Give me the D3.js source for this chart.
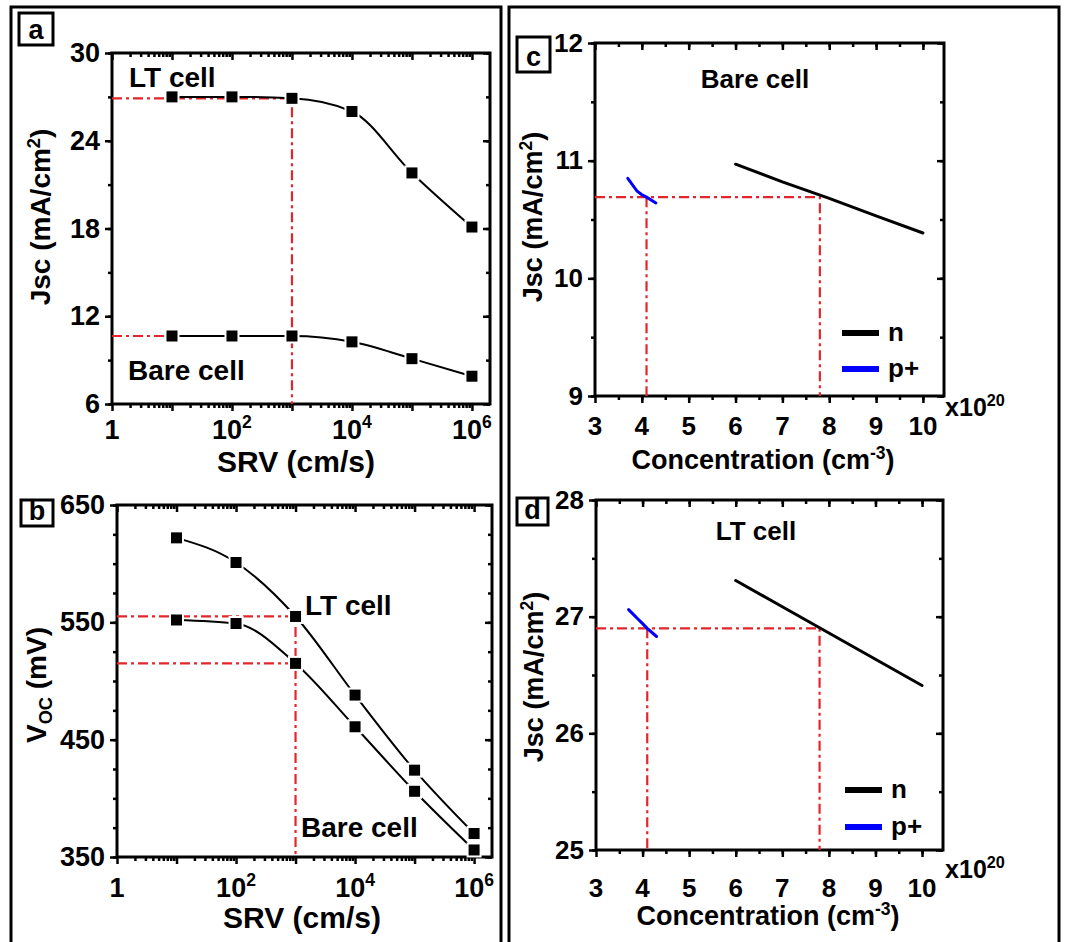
<!DOCTYPE html>
<html>
<head>
<meta charset="utf-8">
<script src="https://cdn.jsdelivr.net/npm/d3@7"></script>
<style>
  body { margin: 0; background: #fff; }
  text { font-family: "Liberation Sans", Arial, sans-serif; font-weight: bold; fill: #000; }
</style>
</head>
<body>
<svg id="fig" width="1068" height="942"></svg>
<script>
'use strict';

// ---- data ----
const srv = [10, 100, 1000, 1e4, 1e5, 1e6];
const jscLT = [27.0, 27.0, 26.9, 26.0, 21.8, 18.1];
const jscBare = [10.65, 10.65, 10.65, 10.25, 9.1, 7.9];
const vocLT = [622, 601, 555, 488, 424, 370];
const vocBare = [552, 549, 515, 461, 406, 356];

const concN = [6, 7, 8, 9, 10];
const concP = [3.7, 3.9, 4.0, 4.1, 4.3];
const bareN = [10.97, 10.82, 10.68, 10.53, 10.385];
const bareP = [10.85, 10.74, 10.71, 10.69, 10.64];
const ltN = [27.31, 27.085, 26.86, 26.635, 26.41];
const ltP = [27.06, 26.98, 26.94, 26.90, 26.83];

const cutConc = [4.1, 7.8];
const cutBare = 10.69;
const cutLT = 26.9;

const srvTicks = [1, 100, 1e4, 1e6];
const srvLabels = [["1", ""], ["10", "2"], ["10", "4"], ["10", "6"]];
const concTicks = [3, 4, 5, 6, 7, 8, 9, 10];

const red = "#e3262b";
const svg = d3.select("#fig");

// outer boxes
svg.append("rect").attr("x", 11).attr("y", 7).attr("width", 490).attr("height", 960)
    .style("fill", "none").style("stroke", "#000").style("stroke-width", 3);
svg.append("rect").attr("x", 509).attr("y", 7).attr("width", 550).attr("height", 960)
    .style("fill", "none").style("stroke", "#000").style("stroke-width", 3);

function logMinor(max) {
    var v = [];
    for (var e = 0; e < 7; e++)
        for (var m = 2; m <= 9; m++) {
            var t = m * Math.pow(10, e);
            if (t < max) v.push(t);
        }
    return v;
}

function steps(a, b, s) {
    return d3.range(a, b + s / 2, s).map(v => +v.toFixed(3));
}

function axisG(g, axis, tx, ty) {
    var s = g.append("g")
        .attr("transform", "translate(" + tx + "," + ty + ")")
        .call(axis);
    s.select(".domain").remove();
    s.attr("font-family", null).attr("font-size", 24);
    s.selectAll("line").style("stroke-width", "2.5px");
    return s;
}

function panel(o) {
    var x = (o.log ? d3.scaleLog() : d3.scaleLinear())
        .domain(o.xDomain).range([o.left, o.right]);
    var y = d3.scaleLinear().domain(o.yDomain).range([o.bottom, o.top]);
    var g = svg.append("g");

    // ticks: out on bottom/left, in on top/right
    axisG(g, d3.axisBottom(x).tickValues(o.xMinor).tickSize(4).tickFormat(""), 0, o.bottom);
    axisG(g, d3.axisBottom(x).tickValues(o.xMajor).tickSize(7).tickFormat(""), 0, o.bottom);
    axisG(g, d3.axisBottom(x).tickValues(o.xMinor).tickSize(4).tickFormat(""), 0, o.top);
    axisG(g, d3.axisBottom(x).tickValues(o.xMajor).tickSize(7).tickFormat(""), 0, o.top);
    axisG(g, d3.axisLeft(y).tickValues(o.yMinor).tickSize(4).tickFormat(""), o.left, 0);
    axisG(g, d3.axisLeft(y).tickValues(o.yMajor).tickSize(7).tickPadding(5).tickFormat(d3.format("d")), o.left, 0)
        .attr("font-size", o.tickFont);
    axisG(g, d3.axisLeft(y).tickValues(o.yMinor).tickSize(4).tickFormat(""), o.right, 0);
    axisG(g, d3.axisLeft(y).tickValues(o.yMajor).tickSize(7).tickFormat(""), o.right, 0);

    g.append("rect")
        .attr("x", o.left).attr("y", o.top)
        .attr("width", o.right - o.left).attr("height", o.bottom - o.top)
        .style("fill", "none").style("stroke", "#000").style("stroke-width", "3px");

    // x tick labels
    o.xLabelVals.forEach(function (v, i) {
        var lab = o.xLabels[i];
        var t = g.append("text")
            .attr("x", x(v)).attr("y", o.xLabelY)
            .attr("text-anchor", "middle")
            .style("font-size", o.tickFont + "px");
        if (Array.isArray(lab)) {
            t.append("tspan").text(lab[0]);
            if (lab[1]) t.append("tspan").attr("dy", -11).style("font-size", "0.65em").text(lab[1]);
        } else {
            t.text(lab);
        }
    });

    // panel letter box
    g.append("rect")
        .attr("x", o.box[0]).attr("y", o.box[1]).attr("width", o.box[2]).attr("height", o.box[3])
        .style("fill", "none").style("stroke", "#000").style("stroke-width", "3px");
    g.append("text")
        .attr("x", o.box[0] + o.box[2] / 2).attr("y", o.box[1] + o.box[3] - 6)
        .attr("text-anchor", "middle")
        .style("font-size", "27px")
        .text(o.letter);

    return { g: g, x: x, y: y };
}

function xTitle(g, cx, by, size, parts) {
    var t = g.append("text").attr("x", cx).attr("y", by)
        .attr("text-anchor", "middle").style("font-size", size + "px");
    parts.forEach(function (p) {
        var s = t.append("tspan").text(p[0]);
        if (p[1]) s.attr("dy", p[1]).style("font-size", p[2]);
    });
    return t;
}

function yTitle(g, bx, cy, size, parts) {
    var t = g.append("text")
        .attr("transform", "translate(" + bx + "," + cy + ") rotate(-90)")
        .attr("text-anchor", "middle").style("font-size", size + "px");
    parts.forEach(function (p) {
        var s = t.append("tspan").text(p[0]);
        if (p[1]) s.attr("dy", p[1]).style("font-size", p[2]);
    });
    return t;
}

function guide(g, x, y, pts) {
    g.append("path")
        .attr("d", d3.line().x(d => x(d[0])).y(d => y(d[1]))(pts))
        .style("fill", "none").style("stroke", red).style("stroke-width", "2.2px")
        .style("stroke-dasharray", "10,4,3,4");
}

function series(g, x, y, xs, ys) {
    var pts = xs.map((v, i) => [v, ys[i]]);
    g.append("path")
        .attr("d", d3.line().x(d => x(d[0])).y(d => y(d[1])).curve(d3.curveMonotoneX)(pts))
        .style("fill", "none").style("stroke", "#000").style("stroke-width", "2px");
    g.selectAll(null).data(pts).enter().append("rect")
        .attr("x", d => x(d[0]) - 6.5).attr("y", d => y(d[1]) - 6.5)
        .attr("width", 13).attr("height", 13)
        .style("fill", "#000").style("stroke", "#fff").style("stroke-width", "2px");
}

function straight(g, x, y, xs, ys, col) {
    g.append("path")
        .datum(xs.map((v, i) => [v, ys[i]]))
        .attr("d", d3.line().x(d => x(d[0])).y(d => y(d[1])))
        .style("fill", "none").style("stroke", col).style("stroke-width", "3px")
        .style("stroke-linecap", "round");
}

function legend(g, x0, y0, gap) {
    [["n", "#000"], ["p+", "#0000ff"]].forEach(function (d, i) {
        var yy = y0 + i * gap;
        g.append("line").attr("x1", x0).attr("x2", x0 + 37).attr("y1", yy).attr("y2", yy)
            .style("stroke", d[1]).style("stroke-width", "6px");
        g.append("text").attr("x", x0 + 46).attr("y", yy + 8)
            .style("font-size", "26px").text(d[0]);
    });
}

// ---- panel a ----
var pa = panel({
    letter: "a", box: [19, 13, 34, 32],
    left: 112, top: 53, right: 490, bottom: 404,
    log: true, xDomain: [1, 2e6],
    xMajor: [1, 10, 100, 1000, 1e4, 1e5, 1e6], xMinor: logMinor(2e6),
    yDomain: [6, 30], yMajor: [6, 12, 18, 24, 30], yMinor: steps(6, 30, 3),
    xLabelVals: srvTicks, xLabels: srvLabels, xLabelY: 439, tickFont: 27
});
guide(pa.g, pa.x, pa.y, [[1, jscLT[2]], [srv[2], jscLT[2]], [srv[2], 6]]);
guide(pa.g, pa.x, pa.y, [[1, jscBare[2]], [srv[2], jscBare[2]]]);
series(pa.g, pa.x, pa.y, srv, jscLT);
series(pa.g, pa.x, pa.y, srv, jscBare);
pa.g.append("text").attr("x", 129).attr("y", 87).style("font-size", "28px").text("LT cell");
pa.g.append("text").attr("x", 128).attr("y", 380).style("font-size", "28px").text("Bare cell");
xTitle(pa.g, 296, 472, 30, [["SRV (cm/s)"]]);
yTitle(pa.g, 50, 217, 28, [["Jsc  (mA/cm"], ["2", -10, "0.65em"], [")", 10, "1em"]]);

// ---- panel b ----
var pb = panel({
    letter: "b", box: [21, 500, 32, 26],
    left: 117, top: 505, right: 492, bottom: 857,
    log: true, xDomain: [1, 2e6],
    xMajor: [1, 10, 100, 1000, 1e4, 1e5, 1e6], xMinor: logMinor(2e6),
    yDomain: [350, 650], yMajor: [350, 450, 550, 650], yMinor: steps(350, 650, 25),
    xLabelVals: srvTicks, xLabels: srvLabels, xLabelY: 897, tickFont: 27
});
guide(pb.g, pb.x, pb.y, [[1, vocLT[2]], [srv[2], vocLT[2]], [srv[2], 350]]);
guide(pb.g, pb.x, pb.y, [[1, vocBare[2]], [srv[2], vocBare[2]]]);
series(pb.g, pb.x, pb.y, srv, vocLT);
series(pb.g, pb.x, pb.y, srv, vocBare);
pb.g.append("text").attr("x", 305).attr("y", 615).style("font-size", "28px").text("LT cell");
pb.g.append("text").attr("x", 301).attr("y", 837).style("font-size", "28px").text("Bare cell");
xTitle(pb.g, 302, 928, 30, [["SRV (cm/s)"]]);
yTitle(pb.g, 46, 685, 28, [["V"], ["OC", 6, "0.65em"], [" (mV)", -6, "1em"]]);

// ---- panel c ----
var pc = panel({
    letter: "c", box: [517, 37, 33, 35],
    left: 595, top: 43, right: 944, bottom: 396,
    log: false, xDomain: [3, 10.45],
    xMajor: concTicks, xMinor: steps(3.5, 10, 0.5),
    yDomain: [9, 12], yMajor: [9, 10, 11, 12], yMinor: steps(9, 12, 0.5),
    xLabelVals: concTicks, xLabels: concTicks.map(String), xLabelY: 435, tickFont: 26
});
guide(pc.g, pc.x, pc.y, [[3, cutBare], [cutConc[1], cutBare], [cutConc[1], 9]]);
guide(pc.g, pc.x, pc.y, [[cutConc[0], cutBare], [cutConc[0], 9]]);
straight(pc.g, pc.x, pc.y, concN, bareN, "#000");
straight(pc.g, pc.x, pc.y, concP, bareP, "#0000ff");
legend(pc.g, 842, 333, 36);
pc.g.append("text").attr("x", 755).attr("y", 88).attr("text-anchor", "middle")
    .style("font-size", "26px").text("Bare cell");
xTitle(pc.g, 763, 469, 27, [["Concentration (cm"], ["-3", -10, "0.65em"], [")", 10, "1em"]]);
yTitle(pc.g, 542, 217, 27, [["Jsc  (mA/cm"], ["2", -10, "0.65em"], [")", 10, "1em"]]);
xTitle(pc.g, 975, 416, 25, [["x10"], ["20", -10, "0.65em"]]);

// ---- panel d ----
var pd = panel({
    letter: "d", box: [517, 498, 31, 27],
    left: 596, top: 500, right: 943, bottom: 850,
    log: false, xDomain: [3, 10.45],
    xMajor: concTicks, xMinor: steps(3.5, 10, 0.5),
    yDomain: [25, 28], yMajor: [25, 26, 27, 28], yMinor: steps(25, 28, 0.5),
    xLabelVals: concTicks, xLabels: concTicks.map(String), xLabelY: 897, tickFont: 26
});
guide(pd.g, pd.x, pd.y, [[3, cutLT], [cutConc[1], cutLT], [cutConc[1], 25]]);
guide(pd.g, pd.x, pd.y, [[cutConc[0], cutLT], [cutConc[0], 25]]);
straight(pd.g, pd.x, pd.y, concN, ltN, "#000");
straight(pd.g, pd.x, pd.y, concP, ltP, "#0000ff");
legend(pd.g, 845, 790, 37);
pd.g.append("text").attr("x", 756).attr("y", 540).attr("text-anchor", "middle")
    .style("font-size", "26px").text("LT cell");
xTitle(pd.g, 768, 925, 27, [["Concentration (cm"], ["-3", -10, "0.65em"], [")", 10, "1em"]]);
yTitle(pd.g, 543, 677, 27, [["Jsc  (mA/cm"], ["2", -10, "0.65em"], [")", 10, "1em"]]);
xTitle(pd.g, 975, 878, 25, [["x10"], ["20", -10, "0.65em"]]);
</script>
</body>
</html>
